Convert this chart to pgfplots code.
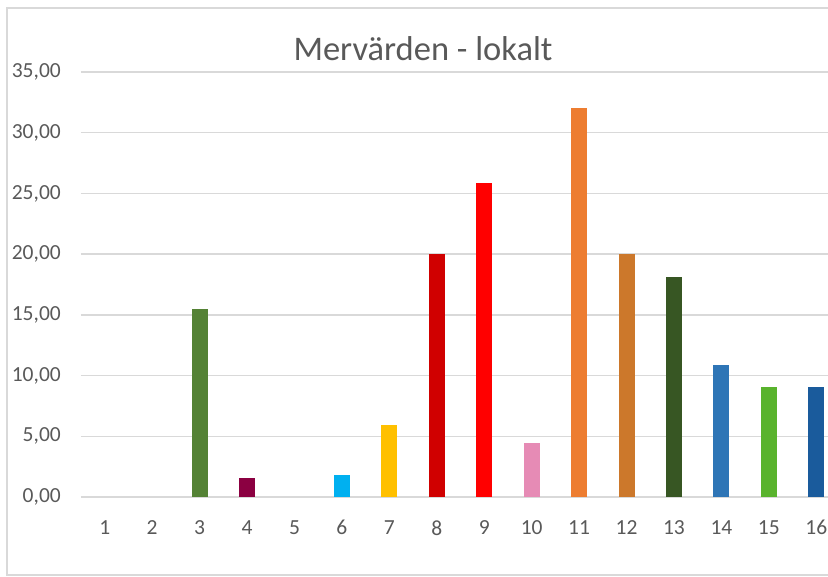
\documentclass[border=0pt]{standalone}
\usepackage{pgfplots}
\pgfplotsset{compat=1.18}
\usepackage{fontspec}
\setmainfont{Carlito}
\definecolor{txt}{HTML}{595959}
\definecolor{gridc}{HTML}{D9D9D9}
\definecolor{c3}{HTML}{548235}
\definecolor{c4}{HTML}{8B0041}
\definecolor{c6}{HTML}{00B0F0}
\definecolor{c7}{HTML}{FFC000}
\definecolor{c8}{HTML}{D00000}
\definecolor{c9}{HTML}{FF0000}
\definecolor{c10}{HTML}{E68BB5}
\definecolor{c11}{HTML}{ED7D31}
\definecolor{c12}{HTML}{CC782B}
\definecolor{c13}{HTML}{375623}
\definecolor{c14}{HTML}{2E75B6}
\definecolor{c15}{HTML}{59B32D}
\definecolor{c16}{HTML}{1A5B9C}
\begin{document}
\begin{tikzpicture}
\useasboundingbox (0pt,0pt) rectangle (828pt,577pt);
\clip (0pt,0pt) rectangle (828pt,577pt);
\draw[gridc, line width=1.5pt] (850pt,2pt) -- (7pt,2pt) -- (7pt,569pt) -- (850pt,569pt);
\node[txt, font=\fontsize{34.5}{41}\selectfont, anchor=base] at (423pt,516.3pt) {Mervärden - lokalt};
\begin{axis}[
  at={(81pt,80pt)}, anchor=south west,
  scale only axis, width=759pt, height=425pt,
  xmin=0.5, xmax=16.5, ymin=0, ymax=35,
  axis line style={draw=none},
  xmajorgrids=false, ymajorgrids=true,
  major grid style={draw=gridc, line width=1.4pt, opacity=1},
  xtick style={draw=none}, ytick style={draw=none},
  xtick={1,...,16}, ytick={0,5,...,35},
  /pgf/number format/assume math mode=true,
  yticklabel style={/pgf/number format/fixed, /pgf/number format/fixed zerofill, /pgf/number format/precision=2, /pgf/number format/use comma},
  ticklabel style={txt, font=\fontsize{21.5}{26}\selectfont, inner sep=0pt},
  yticklabel style={anchor=east, xshift=-20pt},
  xticklabel style={anchor=north, yshift=-19pt},
  xticklabel={\pgfmathprintnumber[fixed,precision=0]{\tick}},
  ybar, bar width=16pt, bar shift=0pt,
]
\addplot[draw=none, fill=none] coordinates {(1,0)};
\addplot[draw=none, fill=none] coordinates {(2,0)};
\addplot[draw=none, fill=c3] coordinates {(3,15.5)};
\addplot[draw=none, fill=c4] coordinates {(4,1.56)};
\addplot[draw=none, fill=none] coordinates {(5,0)};
\addplot[draw=none, fill=c6] coordinates {(6,1.8)};
\addplot[draw=none, fill=c7] coordinates {(7,5.93)};
\addplot[draw=none, fill=c8] coordinates {(8,20.0)};
\addplot[draw=none, fill=c9] coordinates {(9,25.88)};
\addplot[draw=none, fill=c10] coordinates {(10,4.45)};
\addplot[draw=none, fill=c11] coordinates {(11,32.05)};
\addplot[draw=none, fill=c12] coordinates {(12,20.0)};
\addplot[draw=none, fill=c13] coordinates {(13,18.1)};
\addplot[draw=none, fill=c14] coordinates {(14,10.9)};
\addplot[draw=none, fill=c15] coordinates {(15,9.05)};
\addplot[draw=none, fill=c16] coordinates {(16,9.05)};
\end{axis}
\end{tikzpicture}
\end{document}
